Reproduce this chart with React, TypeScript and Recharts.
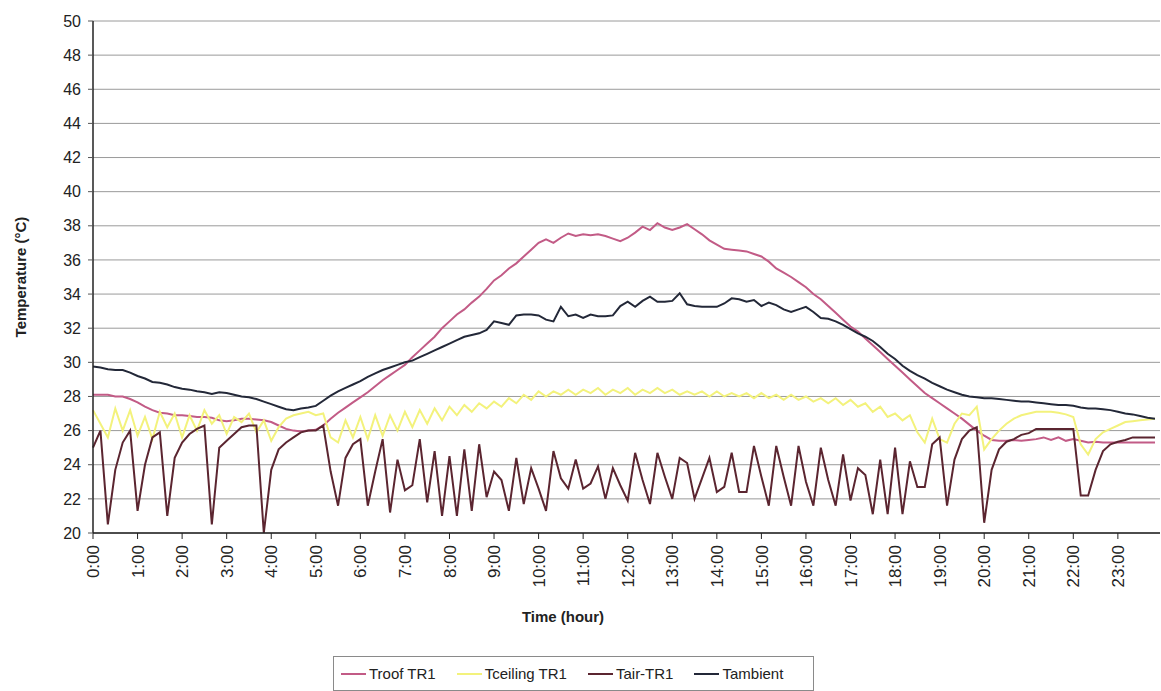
import React from 'react';
import { LineChart, Line, XAxis, YAxis, CartesianGrid, Legend } from 'recharts';

// hourly tick labels; samples are taken every 10 minutes
const hourLabels = [
  '0:00', '1:00', '2:00', '3:00', '4:00', '5:00', '6:00', '7:00', '8:00', '9:00', '10:00', '11:00',
  '12:00', '13:00', '14:00', '15:00', '16:00', '17:00', '18:00', '19:00', '20:00', '21:00', '22:00', '23:00',
];
const minuteLabels = ['00', '10', '20', '30', '40', '50'];
const times = hourLabels.flatMap((h) => minuteLabels.map((m) => h.replace(':00', ':' + m)));

const tempTicks = [20, 22, 24, 26, 28, 30, 32, 34, 36, 38, 40, 42, 44, 46, 48, 50];

const troof = [
  28.1, 28.1, 28.1, 28.0, 28.0, 27.85, 27.65, 27.4, 27.2, 27.05, 27.0, 26.9,
  26.9, 26.85, 26.8, 26.8, 26.75, 26.6, 26.55, 26.6, 26.7, 26.7, 26.65, 26.6,
  26.5, 26.3, 26.1, 26.0, 25.95, 26.0, 26.05, 26.3, 26.7, 27.05, 27.35, 27.65,
  27.95, 28.25, 28.6, 28.95, 29.25, 29.55, 29.85, 30.3, 30.7, 31.1, 31.5, 32.0,
  32.4, 32.8, 33.1, 33.5, 33.85, 34.3, 34.8, 35.1, 35.5, 35.8, 36.2, 36.6,
  37.0, 37.2, 37.0, 37.3, 37.55, 37.4, 37.5, 37.45, 37.5, 37.4, 37.25, 37.1,
  37.3, 37.6, 37.95, 37.75, 38.15, 37.9, 37.75, 37.9, 38.1, 37.8, 37.5, 37.15,
  36.9, 36.65, 36.6, 36.55, 36.5, 36.35, 36.2, 35.9, 35.5, 35.25, 35.0, 34.7,
  34.4, 34.0, 33.7, 33.3, 32.9, 32.5, 32.1, 31.8, 31.4, 31.0, 30.6, 30.2,
  29.8, 29.4, 29.0, 28.6, 28.2, 27.9, 27.6, 27.3, 27.0, 26.7, 26.35, 26.0,
  25.7, 25.45, 25.4, 25.4, 25.45, 25.4, 25.45, 25.5, 25.6, 25.45, 25.6, 25.4,
  25.5, 25.4, 25.3, 25.35, 25.3, 25.3, 25.3, 25.3, 25.3, 25.3, 25.3, 25.3,
];

const tceiling = [
  27.2, 26.4, 25.6, 27.3, 26.0, 27.2, 25.7, 26.8, 25.5, 27.1, 26.2, 27.0,
  25.6, 26.9, 26.0, 27.2, 26.4, 26.9, 25.8, 26.8, 26.5, 27.0, 25.9, 26.6,
  25.4, 26.2, 26.7, 26.9, 27.0, 27.1, 26.9, 27.0, 25.6, 25.3, 26.6, 25.6,
  26.8, 25.5, 26.9, 25.7, 26.9, 26.0, 27.1, 26.2, 27.2, 26.4, 27.3, 26.6,
  27.4, 26.9, 27.5, 27.1, 27.6, 27.3, 27.7, 27.4, 27.9, 27.6, 28.1, 27.8,
  28.3, 28.0, 28.3, 28.1, 28.4, 28.1, 28.4, 28.2, 28.5, 28.1, 28.4, 28.2,
  28.5, 28.1, 28.4, 28.2, 28.5, 28.2, 28.4, 28.1, 28.3, 28.1, 28.3, 28.0,
  28.3, 28.0, 28.2, 28.0, 28.2, 27.9, 28.2, 27.9, 28.1, 27.8, 28.1, 27.8,
  28.0, 27.7, 27.9, 27.6, 27.9, 27.5, 27.8, 27.4, 27.6, 27.1, 27.4, 26.8,
  27.0, 26.6, 26.9, 25.9, 25.3, 26.7, 25.5, 25.3, 26.4, 27.0, 26.9, 27.4,
  24.9, 25.5, 26.0, 26.4, 26.7, 26.9, 27.0, 27.1, 27.1, 27.1, 27.05, 26.95,
  26.8, 25.2, 24.6, 25.5, 25.9, 26.1, 26.3, 26.5, 26.55, 26.6, 26.65, 26.7,
];

const tair = [
  25.0, 26.0, 20.5, 23.7, 25.3, 26.0, 21.3, 24.0, 25.6, 25.9, 21.0, 24.4,
  25.3, 25.8, 26.1, 26.3, 20.5, 25.0, 25.4, 25.8, 26.2, 26.3, 26.3, 20.0,
  23.7, 24.9, 25.3, 25.6, 25.9, 26.0, 26.0, 26.3, 23.6, 21.6, 24.4, 25.2,
  25.5, 21.6, 23.6, 25.5, 21.2, 24.3, 22.5, 22.8, 25.5, 21.8, 24.8, 21.0,
  24.5, 21.0, 24.9, 21.3, 25.2, 22.1, 23.6, 23.1, 21.3, 24.4, 21.7, 23.8,
  22.6, 21.3, 24.8, 23.2, 22.6, 24.3, 22.6, 22.9, 23.9, 22.0, 23.8, 22.8,
  21.9, 24.7, 23.1, 21.7, 24.7, 23.3, 22.0, 24.4, 24.1, 22.0, 23.2, 24.4,
  22.4, 22.7, 24.7, 22.4, 22.4, 25.1, 23.3, 21.6, 25.1, 23.3, 21.6, 25.1,
  23.0, 21.6, 25.0, 23.1, 21.6, 24.6, 21.9, 23.8, 23.4, 21.1, 24.3, 21.1,
  25.0, 21.1, 24.2, 22.7, 22.7, 25.2, 25.6, 21.6, 24.3, 25.5, 26.0, 26.2,
  20.6, 23.7, 24.9, 25.35, 25.5, 25.75, 25.85, 26.1, 26.1, 26.1, 26.1, 26.1,
  26.1, 22.2, 22.2, 23.7, 24.8, 25.2, 25.35, 25.45, 25.6, 25.6, 25.6, 25.6,
];

const tambient = [
  29.75, 29.7, 29.6, 29.55, 29.55, 29.4, 29.2, 29.05, 28.85, 28.8, 28.7, 28.55,
  28.45, 28.4, 28.3, 28.25, 28.15, 28.25, 28.2, 28.1, 28.0, 27.95, 27.85, 27.7,
  27.55, 27.4, 27.25, 27.2, 27.3, 27.35, 27.45, 27.75, 28.05, 28.3, 28.5, 28.7,
  28.9, 29.15, 29.35, 29.55, 29.7, 29.85, 30.0, 30.1, 30.3, 30.5, 30.7, 30.9,
  31.1, 31.3, 31.5, 31.6, 31.7, 31.9, 32.4, 32.3, 32.2, 32.75, 32.8, 32.8,
  32.75, 32.5, 32.4, 33.25, 32.7, 32.8, 32.6, 32.8, 32.7, 32.7, 32.75, 33.3,
  33.55, 33.25, 33.6, 33.85, 33.55, 33.55, 33.6, 34.05, 33.4, 33.3, 33.25, 33.25,
  33.25, 33.45, 33.75, 33.7, 33.55, 33.65, 33.3, 33.5, 33.35, 33.1, 32.95, 33.1,
  33.25, 32.95, 32.6, 32.55, 32.4, 32.2, 31.95, 31.7, 31.5, 31.25, 30.9, 30.5,
  30.2, 29.8, 29.5, 29.25, 29.05, 28.8, 28.6, 28.4, 28.25, 28.1, 28.0, 27.95,
  27.9, 27.9, 27.85, 27.8, 27.75, 27.7, 27.7, 27.65, 27.6, 27.55, 27.5, 27.5,
  27.45, 27.35, 27.3, 27.3, 27.25, 27.2, 27.1, 27.0, 26.95, 26.85, 26.75, 26.7,
];

const series = [
  { key: 'troof', name: 'Troof TR1', color: '#c25b86' },
  { key: 'tceiling', name: 'Tceiling TR1', color: '#f3f27c' },
  { key: 'tair', name: 'Tair-TR1', color: '#5b2530' },
  { key: 'tambient', name: 'Tambient', color: '#232838' },
];

const data = times.map((time, i) => ({
  time,
  troof: troof[i],
  tceiling: tceiling[i],
  tair: tair[i],
  tambient: tambient[i],
}));

const FONT = '"Liberation Sans", Arial, sans-serif';

const HourTick = (props: any) => {
  const { x, y, payload } = props;
  return (
    <g transform={`translate(${x},${y})`}>
      <text
        transform="rotate(-90)"
        x={0}
        y={0}
        dy="0.36em"
        textAnchor="end"
        fontSize={17}
        fontFamily={FONT}
        fill="#222"
      >
        {payload.value}
      </text>
    </g>
  );
};

const LegendBox = () => (
  <div
    style={{
      marginLeft: 333,
      width: 472,
      height: 33,
      border: '1px solid #8a8a8a',
      boxSizing: 'content-box',
      display: 'flex',
      alignItems: 'center',
      paddingLeft: 7,
      gap: 21,
      fontFamily: FONT,
      fontSize: 15,
      color: '#222',
      background: '#fff',
    }}
  >
    {series.map((s) => (
      <div key={s.key} style={{ display: 'flex', alignItems: 'center' }}>
        <span style={{ display: 'inline-block', width: 25, height: 2, background: s.color, marginRight: 3 }} />
        <span>{s.name}</span>
      </div>
    ))}
  </div>
);

export default function App() {
  return (
    <div style={{ position: 'absolute', left: 0, top: 0, background: '#fff' }}>
      <LineChart width={1161} height={691} data={data} margin={{ top: 21, right: 1, left: 0, bottom: 0 }}>
        <CartesianGrid vertical={false} stroke="#9a9a9a" />
        <XAxis
          xAxisId="minor"
          dataKey="time"
          interval={0}
          tick={false}
          tickSize={3}
          axisLine={false}
          tickLine={{ stroke: '#777' }}
          height={0}
        />
        <XAxis
          dataKey="time"
          interval={5}
          tick={<HourTick />}
          tickSize={6}
          tickMargin={6}
          height={123}
          padding={{ left: 0, right: 5 }}
          axisLine={{ stroke: '#222', strokeWidth: 1.5 }}
          tickLine={{ stroke: '#222' }}
          label={({ viewBox }: any) => (
            <text
              x={563}
              y={viewBox.y + 89}
              textAnchor="middle"
              fontSize={15}
              fontWeight="bold"
              fontFamily={FONT}
              fill="#222"
            >
              Time (hour)
            </text>
          )}
        />
        <YAxis
          type="number"
          domain={[20, 50]}
          ticks={tempTicks}
          interval={0}
          width={93}
          tickSize={5}
          tickMargin={7}
          axisLine={{ stroke: '#222', strokeWidth: 1.5 }}
          tickLine={{ stroke: '#555' }}
          tick={{ fontSize: 16, fontFamily: FONT, fill: '#222' }}
          label={({ viewBox }: any) => {
            const cx = viewBox.x + 21;
            const cy = viewBox.y + viewBox.height / 2;
            return (
              <text
                x={cx}
                y={cy}
                transform={`rotate(-90, ${cx}, ${cy})`}
                dy="0.36em"
                textAnchor="middle"
                fontSize={15}
                fontWeight="bold"
                fontFamily={FONT}
                fill="#222"
              >
                Temperature (°C)
              </text>
            );
          }}
        />
        <Legend verticalAlign="bottom" content={<LegendBox />} />
        {series.map((s) => (
          <Line
            key={s.key}
            type="linear"
            dataKey={s.key}
            name={s.name}
            stroke={s.color}
            strokeWidth={2}
            dot={false}
            isAnimationActive={false}
          />
        ))}
      </LineChart>
    </div>
  );
}
